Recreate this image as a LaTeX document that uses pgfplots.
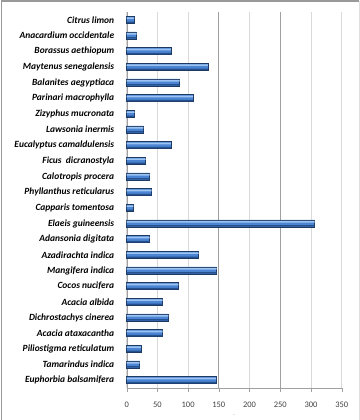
\documentclass[border=0pt]{standalone}
\usepackage{pgfplots}
\usepackage{pgfplotstable}
\pgfplotsset{compat=1.18}
\usepackage{fontspec}
\setmainfont{Carlito}
\definecolor{barlight}{HTML}{9CC3F2}
\definecolor{barmid}{HTML}{4A84D2}
\definecolor{bardark}{HTML}{24508E}
\definecolor{baredge}{HTML}{1E3A62}
\definecolor{gridc}{HTML}{D9D9D9}
\definecolor{gridd}{HTML}{A0A0A0}
\definecolor{axisc}{HTML}{A0A0A0}
\pgfplotstableread{
i v
0 145.5
1 21
2 23
3 58.5
4 68
5 58.5
6 84
7 146.5
8 117
9 37.5
10 306
11 11
12 40.5
13 37.5
14 31
15 72
16 27
17 13
18 108
19 86
20 132
21 72
22 16
23 12
}\datatable
\begin{document}
\begin{tikzpicture}[x=1bp,y=1bp]
\useasboundingbox (0,0) rectangle (360,420);
\draw[color=gray!80, line width=1.2bp] (1.5,0) -- (1.5,419) -- (359,419);
\draw[color=gray!25, line width=0.6bp] (359,419) -- (359,0);
\begin{axis}[
  at={(126.7bp,32bp)}, anchor=south west,
  scale only axis, width=215bp, height=376bp,
  xbar, bar width=7bp, bar shift=0pt,
  xmin=0, xmax=350, ymin=-0.5, ymax=23.5,
  xtick={0,50,100,200,300,350},
  ytick={0,...,23},
  yticklabels={Euphorbia balsamifera,Tamarindus indica,Piliostigma reticulatum,Acacia ataxacantha,Dichrostachys cinerea,Acacia albida,Cocos nucifera,Mangifera indica,Azadirachta indica,Adansonia digitata,Elaeis guineensis,Capparis tomentosa,Phyllanthus reticularus,Calotropis procera,Ficus\ \ dicranostyla,Eucalyptus camaldulensis,Lawsonia inermis,Zizyphus mucronata,Parinari macrophylla,Balanites aegyptiaca,Maytenus senegalensis,Borassus aethiopum,Anacardium occidentale,Citrus limon},
  yticklabel style={font=\fontsize{9.5}{10}\selectfont\bfseries\itshape, xshift=-5bp},
  xticklabel style={font=\fontsize{8.5}{10}\selectfont, text=black!75, yshift=-6bp},
  /pgf/number format/assume math mode=true,
  ytick style={draw=none},
  xtick style={draw=axisc},
  tick align=outside,
  major tick length=4bp,
  extra y ticks={-0.5,0.5,...,23.5},
  extra y tick labels={},
  extra y tick style={tick style={draw=axisc}, major tick length=4bp},
  extra x ticks={150,250},
  extra x tick style={grid style={draw=gridd, line width=0.9bp}, tick style={draw=axisc}},
  xmajorgrids, grid style={draw=gridc, line width=0.6bp},
  axis line style={draw=axisc},
  axis x line*=bottom, axis y line*=left,
  xlabel={-}, xlabel style={font=\tiny, text=gray, yshift=7bp},
  clip=false,
]
\addplot[fill=barmid, draw=baredge, line width=0.5bp, bar width=7bp, bar shift=0pt] table[x=v, y=i] {\datatable};
\addplot[fill=barlight, draw=none, bar width=1.6bp, bar shift=1.7bp] table[x=v, y=i] {\datatable};
\addplot[fill=bardark, draw=none, bar width=1.4bp, bar shift=-2.4bp] table[x=v, y=i] {\datatable};
\end{axis}
\end{tikzpicture}
\end{document}
